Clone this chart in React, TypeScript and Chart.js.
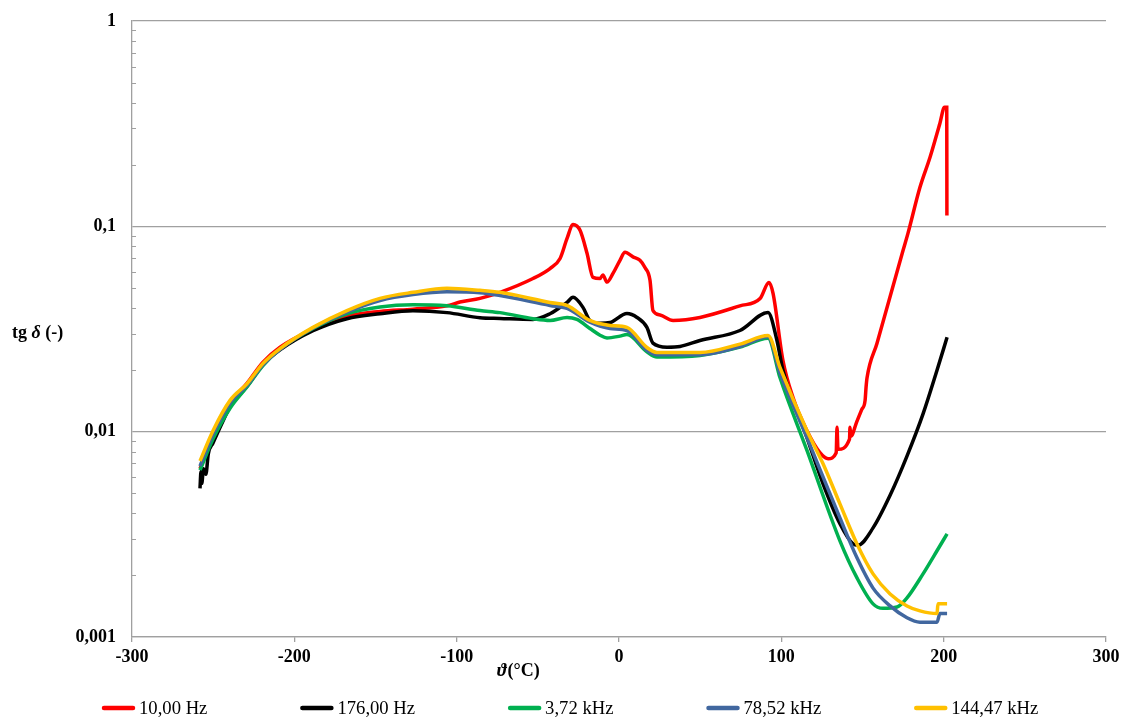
import React, { useEffect, useRef } from "react";
import { Chart, registerables } from "chart.js";

Chart.register(...registerables);

const SERIES_NAMES = ["10,00 Hz", "176,00 Hz", "3,72 kHz", "78,52 kHz", "144,47 kHz"];
const SERIES_COLORS = ["#FF0000", "#000000", "#00B050", "#41679F", "#FFC000"];

const X_10HZ = [-258.1, -250.1, -239.6, -229.2, -219.3, -208.8, -188.5, -167.6, -147.2, -126.9, -106, -98, -85.6, -73.3, -53, -42.5, -36.3, -32, -28.3, -24, -19.7, -16, -11.7, -9.9, -7.4, -3.7, 0.6, 3.7, 8.6, 12.9, 16, 19.1, 20.9, 25.3, 33.3, 49.9, 74.5, 86.9, 92.4, 94.9, 101, 107.2, 115.8, 123.8, 128.8, 133.8, 134.3, 134.9, 142, 142.3, 142.8, 146.5, 149.5, 151.6, 152.2, 152.8, 158.9, 175, 178, 185.4, 191.6, 197.7, 200.5, 201.9, 202.0];
const Y_10HZ = [0.0066, 0.0095, 0.0138, 0.0172, 0.0218, 0.0258, 0.0315, 0.0365, 0.0385, 0.0395, 0.041, 0.0428, 0.0446, 0.0477, 0.0557, 0.0623, 0.0697, 0.0873, 0.102, 0.0956, 0.0739, 0.0564, 0.0557, 0.058, 0.0535, 0.059, 0.0683, 0.0747, 0.071, 0.0683, 0.063, 0.0546, 0.0389, 0.037, 0.0348, 0.036, 0.041, 0.0445, 0.0533, 0.0471, 0.0222, 0.01465, 0.0101, 0.0079, 0.00738, 0.0079, 0.0105, 0.0082, 0.0092, 0.0105, 0.0095, 0.0112, 0.0128, 0.0142, 0.0165, 0.0183, 0.0269, 0.0764, 0.0924, 0.155, 0.217, 0.318, 0.38, 0.38, 0.113];

const X_176HZ = [-258.1, -257.5, -257, -256, -254.5, -253, -250.1, -245, -239.6, -229.2, -219.3, -208.8, -188.5, -167.6, -147.2, -126.9, -106, -85.6, -73.3, -53, -42.5, -36.3, -32, -28.3, -22.2, -17.9, -11.7, -5.5, 4.9, 11.1, 17.2, 20.9, 29.6, 37.6, 49.9, 74.5, 91.8, 97.3, 101, 115.8, 125.7, 136.1, 144.2, 147.2, 156.5, 167, 177.4, 187.3, 195.9, 202.1];
const Y_176HZ = [0.0053, 0.0064, 0.0056, 0.0066, 0.0062, 0.0078, 0.0088, 0.0108, 0.0132, 0.0166, 0.0212, 0.025, 0.031, 0.0355, 0.0375, 0.0388, 0.038, 0.0359, 0.0356, 0.0352, 0.0375, 0.0403, 0.0426, 0.0451, 0.0403, 0.0348, 0.0337, 0.034, 0.0376, 0.036, 0.0322, 0.027, 0.0258, 0.026, 0.0278, 0.0311, 0.038, 0.0278, 0.0199, 0.00935, 0.00557, 0.00356, 0.00284, 0.0028, 0.0034, 0.0049, 0.0076, 0.0122, 0.0199, 0.0288];

const X_3_72KHZ = [-258.1, -250.1, -239.6, -229.2, -219.3, -208.8, -188.5, -167.6, -147.2, -126.9, -106, -85.6, -73.3, -53, -42.5, -32, -25.9, -17.9, -11.7, -7.4, 0.6, 4.9, 17.2, 23.4, 49.9, 74.5, 91.8, 99.2, 115.8, 136.1, 146.6, 156.5, 162.6, 171.3, 177.4, 187.3, 195.9, 202.1];
const Y_3_72KHZ = [0.0065, 0.0092, 0.013, 0.0165, 0.021, 0.0252, 0.0318, 0.0375, 0.0405, 0.0415, 0.041, 0.0389, 0.038, 0.0355, 0.0348, 0.036, 0.0352, 0.0318, 0.0295, 0.0286, 0.0292, 0.0297, 0.0245, 0.0231, 0.0235, 0.0258, 0.0285, 0.0183, 0.0081, 0.00294, 0.00194, 0.00145, 0.00138, 0.0014, 0.00155, 0.00203, 0.00263, 0.00318];

const X_78_52KHZ = [-258.1, -250.1, -239.6, -229.2, -219.3, -208.8, -188.5, -167.6, -147.2, -126.9, -106, -85.6, -73.3, -42.5, -32, -17.9, -5.5, 4.9, 17.2, 23.4, 49.9, 74.5, 91.8, 99.2, 115.8, 136.1, 146.6, 156.5, 167, 177.4, 185.4, 195.9, 197.7, 202.1];
const Y_78_52KHZ = [0.0068, 0.0097, 0.0138, 0.0168, 0.0212, 0.0252, 0.032, 0.0382, 0.0435, 0.0465, 0.048, 0.0475, 0.046, 0.0412, 0.0398, 0.0341, 0.0318, 0.0311, 0.0249, 0.0237, 0.0237, 0.026, 0.029, 0.0193, 0.00935, 0.0038, 0.00243, 0.00173, 0.001417, 0.00124, 0.00118, 0.00118, 0.0013, 0.0013];

const X_144_47KHZ = [-258.1, -250.1, -239.6, -229.2, -219.3, -208.8, -188.5, -167.6, -147.2, -126.9, -106, -85.6, -73.3, -42.5, -32, -17.9, -5.5, 4.9, 17.2, 23.4, 49.9, 74.5, 91.8, 99.2, 115.8, 125.7, 136.1, 146.6, 156.5, 167, 177.4, 185.4, 195.9, 196.5, 202.1];
const Y_144_47KHZ = [0.0072, 0.0101, 0.0142, 0.0171, 0.0215, 0.0254, 0.0322, 0.0389, 0.0446, 0.0477, 0.0499, 0.0488, 0.0477, 0.0426, 0.0412, 0.0348, 0.0329, 0.0322, 0.0257, 0.0243, 0.0243, 0.0267, 0.0294, 0.0205, 0.0101, 0.00698, 0.00445, 0.00284, 0.00203, 0.00162, 0.001417, 0.00134, 0.0013, 0.00145, 0.00145];

const X_TICK_MIN = -300;
const X_TICK_MAX = 300;
const X_TICK_STEP = 100;
const Y_TICK_VALUES = [0.001, 0.01, 0.1, 1];
const Y_TICK_LABELS = ["0,001", "0,01", "0,1", "1"];

const FONT = "'Liberation Serif', 'Times New Roman', serif";
const GRID = "#A0A0A0";

function pairs(xs: number[], ys: number[]) {
  return xs.map((x, i) => ({ x, y: ys[i] }));
}

const decorPlugin = {
  id: "decor",
  afterDraw(chart: any) {
    const ctx = chart.ctx;
    const ys = chart.scales.y;
    const area = chart.chartArea;
    ctx.save();
    // minor log ticks inside the y axis
    ctx.strokeStyle = GRID;
    ctx.lineWidth = 1;
    for (let d = 0.001; d < 1; d *= 10) {
      for (let k = 2; k <= 9; k++) {
        const py = Math.round(ys.getPixelForValue(d * k)) + 0.5;
        ctx.beginPath();
        ctx.moveTo(area.left, py);
        ctx.lineTo(area.left + 4, py);
        ctx.stroke();
      }
    }
    // x axis title
    ctx.fillStyle = "#000";
    ctx.textBaseline = "alphabetic";
    ctx.textAlign = "left";
    ctx.font = `italic bold 18px ${FONT}`;
    let tx = 497;
    ctx.fillText("ϑ", tx, 676);
    tx += ctx.measureText("ϑ").width + 1;
    ctx.font = `bold 18px ${FONT}`;
    ctx.fillText("(°C)", tx, 676);
    // y axis title
    let yx = 12;
    ctx.font = `bold 18px ${FONT}`;
    ctx.fillText("tg ", yx, 338);
    yx += ctx.measureText("tg ").width;
    ctx.font = `italic bold 18px ${FONT}`;
    ctx.fillText("δ", yx, 338);
    yx += ctx.measureText("δ").width;
    ctx.font = `bold 18px ${FONT}`;
    ctx.fillText(" (-)", yx, 338);
    // legend
    ctx.font = `18.67px ${FONT}`;
    ctx.textBaseline = "middle";
    let lx = 102;
    const ly = 708;
    chart.data.datasets.forEach((ds: any) => {
      ctx.strokeStyle = ds.borderColor;
      ctx.lineWidth = 4.5;
      ctx.lineCap = "round";
      ctx.beginPath();
      ctx.moveTo(lx + 2, ly);
      ctx.lineTo(lx + 31, ly);
      ctx.stroke();
      ctx.fillStyle = "#000";
      ctx.fillText(ds.label, lx + 37, ly + 1);
      lx += 37 + ctx.measureText(ds.label).width + 93;
    });
    ctx.restore();
  },
};

export default function App() {
  const canvasRef = useRef<HTMLCanvasElement | null>(null);

  useEffect(() => {
    if (!canvasRef.current) return;
    const xs = [X_10HZ, X_176HZ, X_3_72KHZ, X_78_52KHZ, X_144_47KHZ];
    const yv = [Y_10HZ, Y_176HZ, Y_3_72KHZ, Y_78_52KHZ, Y_144_47KHZ];
    const datasets = SERIES_NAMES.map((name, i) => ({
      label: name,
      data: pairs(xs[i], yv[i]),
      borderColor: SERIES_COLORS[i],
      backgroundColor: SERIES_COLORS[i],
      borderWidth: 3.5,
      pointRadius: 0,
      cubicInterpolationMode: "monotone" as const,
      order: 5 - i,
    }));
    const chart = new Chart(canvasRef.current, {
      type: "line",
      data: { datasets },
      options: {
        animation: false,
        responsive: true,
        maintainAspectRatio: false,
        layout: { padding: { top: 21, right: 19, left: 0, bottom: 0 } },
        plugins: { legend: { display: false }, tooltip: { enabled: false } },
        scales: {
          x: {
            type: "linear",
            min: X_TICK_MIN,
            max: X_TICK_MAX,
            ticks: {
              stepSize: X_TICK_STEP,
              color: "#000",
              font: { family: FONT, size: 18, weight: "bold" },
              padding: 5,
              maxRotation: 0,
            },
            grid: { drawOnChartArea: false, drawTicks: true, tickLength: 5, color: GRID, lineWidth: 1.3 },
            border: { color: GRID, width: 1.3 },
            afterFit: (s: any) => {
              s.height = 81;
            },
          },
          y: {
            type: "logarithmic",
            min: 0.001,
            max: 1,
            afterBuildTicks: (s: any) => {
              s.ticks = Y_TICK_VALUES.map((v) => ({ value: v }));
            },
            ticks: {
              color: "#000",
              font: { family: FONT, size: 18, weight: "bold" },
              padding: 2,
              callback: (v: any) => {
                const idx = Y_TICK_VALUES.findIndex((t) => Math.abs(t - Number(v)) < t * 1e-6);
                return idx >= 0 ? Y_TICK_LABELS[idx] : "";
              },
            },
            grid: { color: GRID, drawTicks: true, tickLength: 14, tickColor: "rgba(0,0,0,0)", lineWidth: 1.3 },
            border: { color: GRID, width: 1.3 },
            afterFit: (s: any) => {
              s.width = 132;
            },
          },
        },
      },
      plugins: [decorPlugin],
    });
    return () => chart.destroy();
  }, []);

  return (
    <div style={{ position: "absolute", left: 0, top: 0, width: 1125, height: 718, background: "#fff" }}>
      <canvas ref={canvasRef} />
    </div>
  );
}
